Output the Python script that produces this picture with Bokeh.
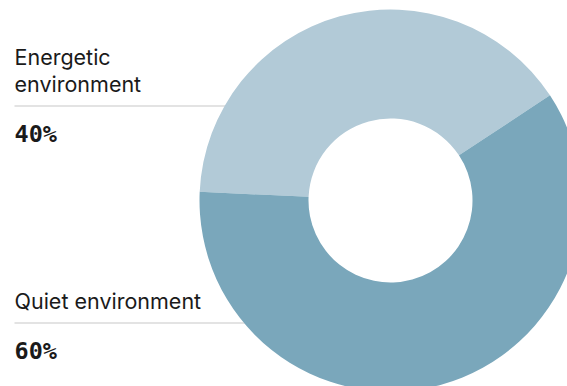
import math
from bokeh.plotting import figure
from bokeh.models import ColumnDataSource, Label
from bokeh.embed import file_html
from bokeh.resources import INLINE

# Data
categories = ["Energetic environment", "Quiet environment"]
shares = [40, 60]
colors = ["#b2cad7", "#7aa7bb"]
label_lines = [["Energetic", "environment"], ["Quiet environment"]]
pct_labels = ["40%", "60%"]

W, H = 567, 386
p = figure(width=W, height=H, x_range=(0, W), y_range=(H, 0),
           output_backend="svg", toolbar_location=None,
           min_border=0, outline_line_color=None)
p.axis.visible = False
p.grid.visible = False
p.background_fill_color = "white"
p.border_fill_color = "white"

# separator lines (drawn under the donut)
p.segment(x0=[14, 14], y0=[105.5, 322.5], x1=[260, 260], y1=[105.5, 322.5],
          line_color="#c8c8c8", line_width=1.2)

cx, cy = 390, 200
r_out, r_in = 191, 82
start_deg = 33.4  # angle where the first slice begins (counterclockwise, screen)
total = sum(shares)
starts, ends = [], []
a = math.radians(start_deg)
for s in shares:
    b = a + 2 * math.pi * s / total
    starts.append(a)
    ends.append(b)
    a = b

src = ColumnDataSource(dict(start=starts, end=ends, color=colors, cat=categories))
p.annular_wedge(x=cx, y=cy, inner_radius=r_in, outer_radius=r_out,
                start_angle="start", end_angle="end", direction="anticlock",
                fill_color="color", line_color=None, source=src)

font = "Inter"
mono = "DejaVu Sans Mono"
ys_text = [[56, 83], [300]]
ys_pct = [133, 350]
for lines, ys, pct, yp in zip(label_lines, ys_text, pct_labels, ys_pct):
    for t, y in zip(lines, ys):
        p.add_layout(Label(x=14, y=y, text=t, text_font=font, text_font_size="21.5px",
                           text_color="#1a1a1a", text_baseline="alphabetic"))
    p.add_layout(Label(x=14, y=yp, text=pct, text_font=mono, text_font_size="23.5px",
                       text_font_style="bold", text_color="#1a1a1a",
                       text_baseline="alphabetic"))

open("out.html", "w").write(file_html(p, INLINE))
